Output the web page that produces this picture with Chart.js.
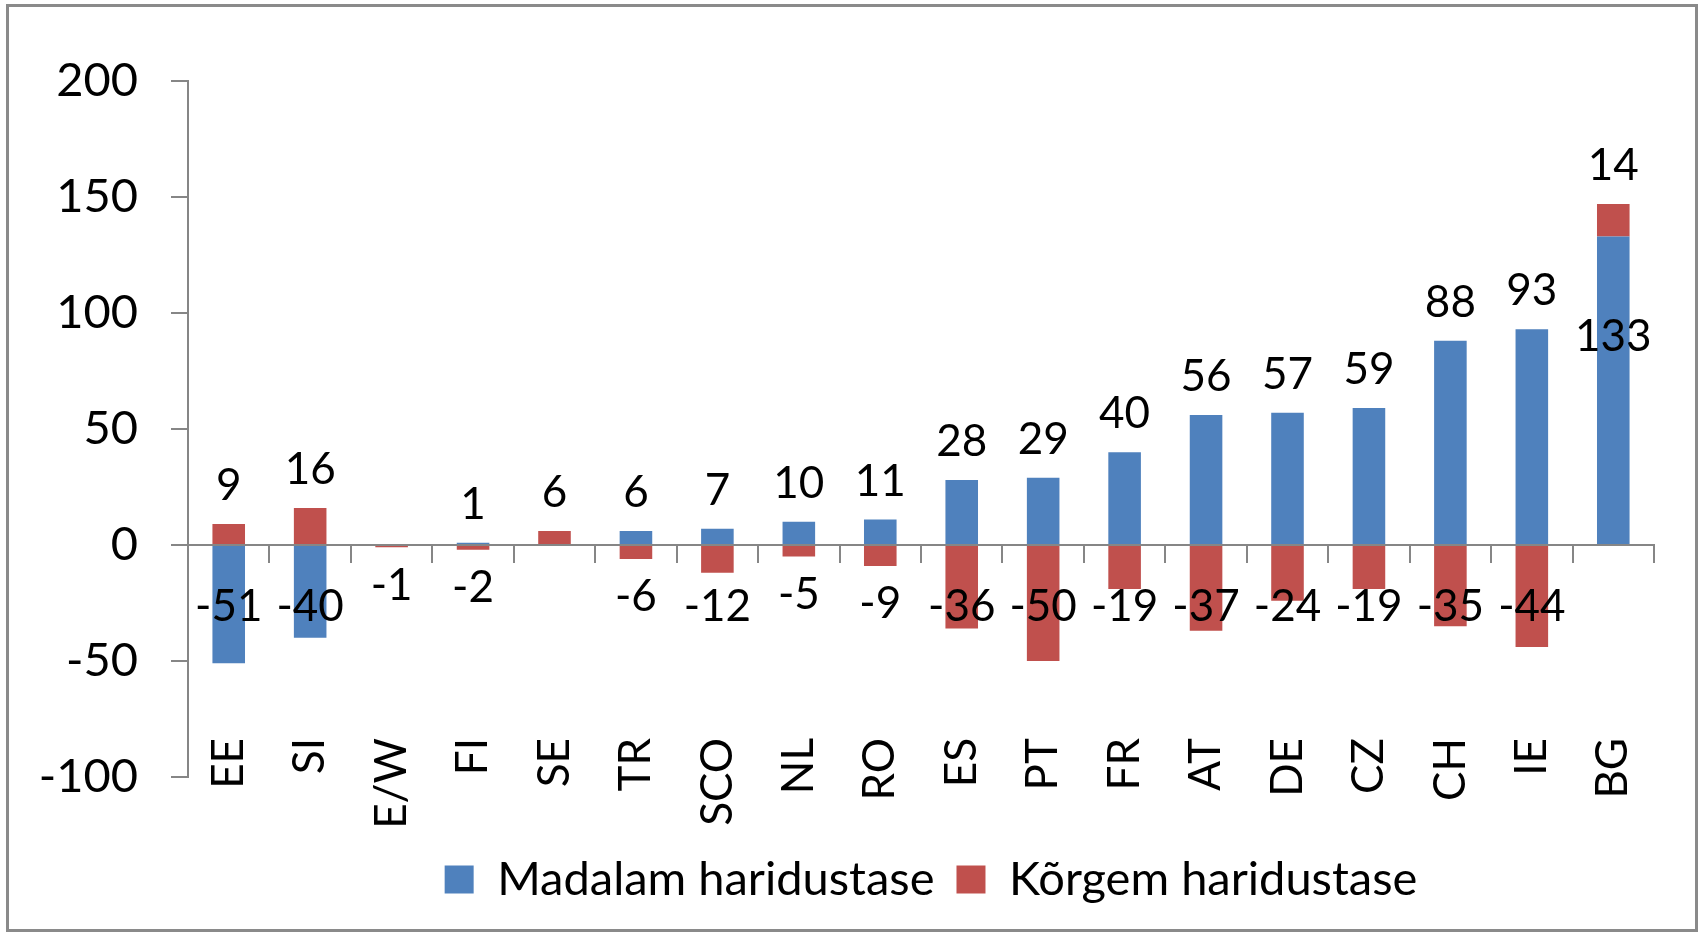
<!DOCTYPE html>
<html lang="et">
<head>
    <meta charset="UTF-8">
    <title>Madalam ja kõrgem haridustase</title>
    <style>
        body { margin: 0; background: #fff; overflow: hidden; }
        #frame {
            position: absolute;
            left: 6px; top: 4px;
            width: 1692px; height: 928px;
            box-sizing: border-box;
            border: 3px solid #8a8a8a;
        }
        #chart-box {
            position: absolute;
            left: 0; top: 0;
            width: 1700px; height: 934px;
        }
    </style>
</head>
<body>
    <div id="frame"></div>
    <div id="chart-box">
        <canvas id="eduChart"></canvas>
    </div>

    <script src="https://cdn.jsdelivr.net/npm/chart.js"></script>
    <script>
        // values
        const categories = ['EE', 'SI', 'E/W', 'FI', 'SE', 'TR', 'SCO', 'NL', 'RO', 'ES', 'PT', 'FR', 'AT', 'DE', 'CZ', 'CH', 'IE', 'BG'];
        const madalam = [-51, -40, null, 1, null, 6, 7, 10, 11, 28, 29, 40, 56, 57, 59, 88, 93, 133];
        const korgem = [9, 16, -1, -2, 6, -6, -12, -5, -9, -36, -50, -19, -37, -24, -19, -35, -44, 14];
        const seriesNames = ['Madalam haridustase', 'Kõrgem haridustase'];
        const yMin = -100, yMax = 200, yStep = 50;

        const FONT = 'Lato, "Open Sans", sans-serif';
        const GREY = '#868686';

        // value labels at the bar ends (Excel style)
        const valueLabels = {
            id: 'valueLabels',
            afterDatasetsDraw(chart) {
                const ctx = chart.ctx;
                const zero = chart.scales.y.getPixelForValue(0);
                ctx.save();
                ctx.font = '44px ' + FONT;
                ctx.fillStyle = '#000';
                ctx.textAlign = 'center';
                ctx.textBaseline = 'middle';
                chart.data.datasets.forEach((ds, i) => {
                    const meta = chart.getDatasetMeta(i);
                    meta.data.forEach((bar, idx) => {
                        const v = ds.data[idx];
                        if (v === null || v === undefined) return;
                        // is another segment stacked further out on the same side?
                        const inner = chart.data.datasets.some((o, j) => j > i && o.data[idx] != null && Math.sign(o.data[idx]) === Math.sign(v));
                        let y;
                        if (v >= 0) {
                            y = inner ? bar.y + 100 : bar.y - 38;
                        } else {
                            y = Math.min(bar.y + 38, zero + 62);
                        }
                        ctx.fillText(String(v), bar.x, y);
                    });
                });
                ctx.restore();
            }
        };

        // move the legend under the middle of the plot, a bit lower
        const legendPlace = {
            id: 'legendPlace',
            afterLayout(chart) {
                const lg = chart.legend;
                const area = chart.chartArea;
                const dx = (area.left + area.right) / 2 - (lg.left + lg.right) / 2 + 10;
                const dy = area.bottom + 57 - lg.top;
                lg.left += dx; lg.right += dx;
                lg.top += dy; lg.bottom += dy;
            }
        };

        const ctx = document.getElementById('eduChart').getContext('2d');
        const eduChart = new Chart(ctx, {
            type: 'bar',
            data: {
                labels: categories,
                datasets: [{
                    label: seriesNames[0],
                    data: madalam,
                    backgroundColor: '#4F81BD',
                    barPercentage: 0.4,
                    categoryPercentage: 1
                }, {
                    label: seriesNames[1],
                    data: korgem,
                    backgroundColor: '#C0504D',
                    barPercentage: 0.4,
                    categoryPercentage: 1
                }]
            },
            options: {
                responsive: true,
                maintainAspectRatio: false,
                animation: false,
                layout: {
                    padding: { left: 8, right: 46, top: 81, bottom: 78 }
                },
                plugins: {
                    tooltip: { enabled: false },
                    legend: {
                        position: 'bottom',
                        labels: {
                            boxWidth: 29,
                            boxHeight: 28,
                            padding: 22,
                            color: '#000',
                            font: { family: FONT, size: 47 }
                        }
                    }
                },
                scales: {
                    x: {
                        stacked: true,
                        position: { y: 0 },
                        // the big label padding should not eat into the plot width
                        afterFit: (scale) => { scale.paddingLeft = 0; scale.paddingRight = 0; },
                        grid: {
                            offset: true,
                            drawOnChartArea: false,
                            tickLength: 17,
                            color: GREY,
                            lineWidth: 2
                        },
                        border: { color: GREY, width: 2 },
                        ticks: {
                            autoSkip: false,
                            minRotation: 90,
                            maxRotation: 90,
                            padding: 176,
                            color: '#000',
                            font: { family: FONT, size: 44 }
                        }
                    },
                    y: {
                        stacked: true,
                        min: yMin,
                        max: yMax,
                        afterFit: (scale) => { scale.width = 180; },
                        grid: {
                            drawOnChartArea: false,
                            tickLength: 17,
                            color: GREY,
                            lineWidth: 2
                        },
                        border: { color: GREY, width: 2 },
                        ticks: {
                            stepSize: yStep,
                            padding: 33,
                            color: '#000',
                            font: { family: FONT, size: 47 }
                        }
                    }
                }
            },
            plugins: [valueLabels, legendPlace]
        });
    </script>
</body>
</html>
